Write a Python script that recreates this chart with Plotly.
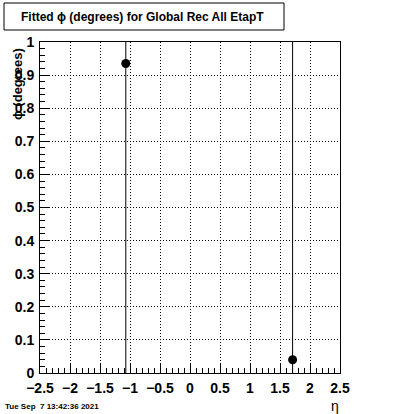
import plotly.graph_objects as go

eta = [-1.07, 1.71]
phi = [0.935, 0.04]
phi_err = [1.2, 1.2]

title_text = "Fitted \u03d5 (degrees) for Global Rec All EtapT"
ytitle = "\u03d5 (degrees)"
xtitle = "\u03b7"
date_text = "Tue Sep \u00a07 13:42:36 2021"

W, H = 400, 414
L, R, T, B = 40, 60, 42, 41
pw, ph = W - L - R, H - T - B

def px(x):
    return (x - L) / pw

def py(y):
    return (H - B - y) / ph

fig = go.Figure()
fig.add_trace(go.Scatter(
    x=eta, y=phi, mode="markers",
    marker=dict(symbol="circle", size=9, color="black"),
    error_y=dict(type="data", array=phi_err, color="black", thickness=1, width=0),
    showlegend=False,
))

font = "Liberation Sans, Arial, sans-serif"
axis_common = dict(
    showline=True, linecolor="black", linewidth=1, mirror=True,
    showgrid=True, gridcolor="black", gridwidth=1, griddash="1px,2px",
    zeroline=False, ticks="inside", tickcolor="black",
    tickfont=dict(family=font, size=14, color="black", weight="bold"),
)

fig.update_layout(
    width=W, height=H,
    margin=dict(l=L, r=R, t=T, b=B, pad=0),
    paper_bgcolor="white", plot_bgcolor="white",
    xaxis=dict(range=[-2.5, 2.5], dtick=0.5, tick0=-2.5, ticklen=10,
               minor=dict(dtick=0.1, ticklen=5, ticks="inside", tickcolor="black", showgrid=False),
               ticklabelstandoff=2, **axis_common),
    yaxis=dict(range=[0, 1], dtick=0.1, tick0=0, ticklen=9,
               minor=dict(dtick=0.02, ticklen=5, ticks="inside", tickcolor="black", showgrid=False),
               ticklabelstandoff=2, **axis_common),
    shapes=[dict(type="rect", xref="paper", yref="paper",
                 x0=px(4), x1=px(284), y0=py(30), y1=py(3),
                 line=dict(color="black", width=1), fillcolor="white")],
    annotations=[
        dict(text=title_text, xref="paper", yref="paper", x=px(142), y=py(16.5),
             xanchor="center", yanchor="middle", showarrow=False,
             font=dict(family=font, size=12, color="black", weight="bold")),
        dict(text=ytitle, xref="paper", yref="paper", x=px(17), y=py(46),
             xanchor="center", yanchor="top", textangle=-90, showarrow=False,
             font=dict(family=font, size=13, color="black", weight="bold")),
        dict(text=xtitle, xref="paper", yref="paper", x=px(335), y=py(406),
             xanchor="center", yanchor="middle", showarrow=False,
             font=dict(family=font, size=14, color="black")),
        dict(text=date_text, xref="paper", yref="paper", x=px(3), y=py(406),
             xanchor="left", yanchor="middle", showarrow=False,
             font=dict(family=font, size=8, color="black", weight="bold")),
    ],
)

fig.write_html("out.html", config={"displayModeBar": False},
               post_script="document.body.style.margin='0';document.body.style.overflow='hidden';")
